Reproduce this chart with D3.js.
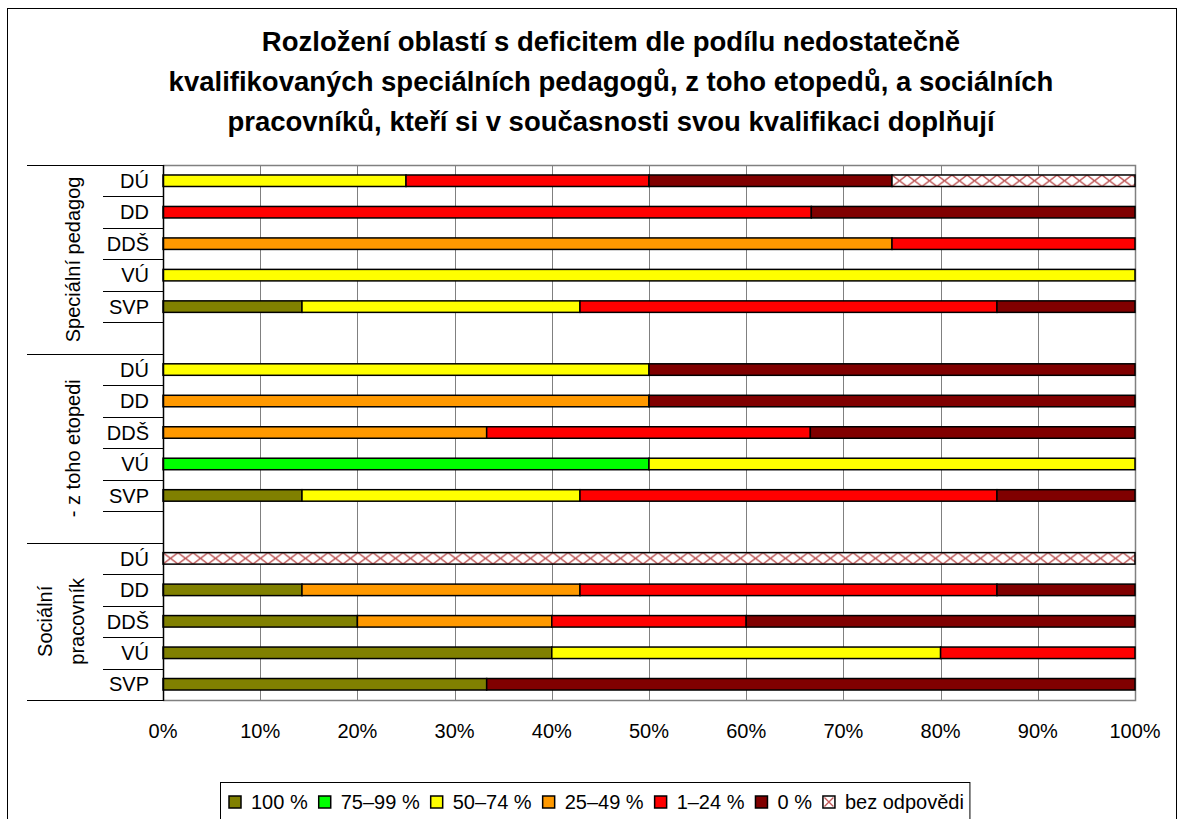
<!DOCTYPE html>
<html>
<head>
<meta charset="utf-8">
<script src="https://cdn.jsdelivr.net/npm/d3@7"></script>
<style>
  body { margin: 0; background: #fff; }
  svg { font-family: "Liberation Sans", Arial, sans-serif; }
</style>
</head>
<body>
<svg id="chart"></svg>
<script>
const width = 1182;
const height = 819;

const titleLines = [
  "Rozložení oblastí s deficitem dle podílu nedostatečně",
  "kvalifikovaných speciálních pedagogů, z toho etopedů, a sociálních",
  "pracovníků, kteří si v současnosti svou kvalifikaci doplňují"
];
const groups = [["Speciální pedagog"], ["- z toho etopedi"], ["Sociální", "pracovník"]];
const types = ["DÚ", "DD", "DDŠ", "VÚ", "SVP"];
const seriesNames = ["100 %", "75–99 %", "50–74 %", "25–49 %", "1–24 %", "0 %", "bez odpovědi"];
const colors = ["#808000", "#00ff00", "#ffff00", "#ff9900", "#ff0000", "#800000", "hatch"];

// share in %, order: group 1 (DÚ..SVP), group 2, group 3
const s100  = [0, 0, 0, 0, 14.3,    0, 0, 0, 0, 14.3,      0, 14.3, 20, 40, 33.3];
const s75   = [0, 0, 0, 0, 0,       0, 0, 0, 50, 0,        0, 0, 0, 0, 0];
const s50   = [25, 0, 0, 100, 28.6, 50, 0, 0, 50, 28.6,    0, 0, 0, 40, 0];
const s25   = [0, 0, 75, 0, 0,      0, 50, 33.3, 0, 0,     0, 28.6, 20, 0, 0];
const s1    = [25, 66.7, 25, 0, 42.9, 0, 0, 33.3, 0, 42.9, 0, 42.9, 20, 20, 0];
const s0    = [25, 33.3, 0, 0, 14.2, 50, 50, 33.4, 0, 14.2, 0, 14.2, 40, 0, 66.7];
const sNone = [25, 0, 0, 0, 0,      0, 0, 0, 0, 0,         100, 0, 0, 0, 0];
const seriesValues = [s100, s75, s50, s25, s1, s0, sNone];

const xTicks = [0, 10, 20, 30, 40, 50, 60, 70, 80, 90, 100];

const svg = d3.select("#chart").attr("width", width).attr("height", height);
const defs = svg.append("defs");

// chart frame
svg.append("rect")
  .attr("x", 7.5).attr("y", 8.5)
  .attr("width", 1169).attr("height", 840)
  .attr("fill", "#fff").attr("stroke", "#000");

// title
svg.append("g").selectAll("text")
  .data(titleLines)
  .enter().append("text")
  .attr("x", 611)
  .attr("y", (d, i) => 51 + i * 40)
  .attr("text-anchor", "middle")
  .attr("font-size", 27.5)
  .attr("font-weight", "bold")
  .text(d => d);

// rows: 5 types per group plus a blank row between groups
const rows = [];
groups.forEach((g, gi) => {
  types.forEach((t, ti) => {
    const row = { key: gi + "|" + t, group: gi, type: t, first: ti === 0 };
    seriesNames.forEach((s, si) => { row[s] = seriesValues[si][gi * 5 + ti]; });
    rows.push(row);
  });
  if (gi < groups.length - 1) {
    const blank = { key: gi + "|blank", group: gi, type: "", first: false };
    seriesNames.forEach(s => { blank[s] = 0; });
    rows.push(blank);
  }
});

const plot = { left: 163, right: 1135, top: 165, bottom: 700 };

const x = d3.scaleLinear().domain([0, 100]).range([plot.left, plot.right]);
const y = d3.scaleBand().domain(rows.map(d => d.key)).range([plot.top, plot.bottom]);
const barH = 11.5;

// gridlines
svg.append("g").selectAll("line")
  .data(xTicks.slice(1, -1))
  .enter().append("line")
  .attr("x1", d => Math.round(x(d)) + 0.5).attr("x2", d => Math.round(x(d)) + 0.5)
  .attr("y1", plot.top).attr("y2", plot.bottom)
  .attr("stroke", "#808080");

// plot area border (top, right, bottom)
svg.append("path")
  .attr("d", `M${plot.left},${plot.top + 0.5}H${plot.right + 0.5}V${plot.bottom + 0.5}H${plot.left}`)
  .attr("fill", "none").attr("stroke", "#808080").attr("stroke-width", 1.5);

// stacked bars
const stack = d3.stack().keys(seriesNames).value((d, k) => d[k]);
const stacked = stack(rows.filter(d => d.type !== ""));

const layer = svg.append("g").selectAll("g")
  .data(stacked)
  .enter().append("g");

layer.selectAll("rect")
  .data(d => d.filter(p => p[1] - p[0] > 0).map(p => ({ p, key: d.key, idx: d.index })))
  .enter().append("rect")
  .attr("x", d => x(d.p[0]))
  .attr("y", d => y(d.p.data.key) + (y.bandwidth() - barH) / 2)
  .attr("width", d => x(d.p[1]) - x(d.p[0]))
  .attr("height", barH)
  .attr("stroke", "#000")
  .attr("stroke-width", 1.5)
  .attr("fill", d => {
    if (colors[d.idx] !== "hatch") return colors[d.idx];
    const id = "hatch-" + d.p.data.group;
    const by = y(d.p.data.key) + (y.bandwidth() - barH) / 2;
    const pat = defs.append("pattern")
      .attr("id", id)
      .attr("patternUnits", "userSpaceOnUse")
      .attr("x", x(d.p[0])).attr("y", by)
      .attr("width", 15).attr("height", barH);
    pat.append("rect").attr("width", 15).attr("height", barH).attr("fill", "#fff");
    pat.append("path")
      .attr("d", `M0,0L15,${barH}M15,0L0,${barH}`)
      .attr("stroke", "#c05858").attr("stroke-width", 1.4).attr("fill", "none");
    return `url(#${id})`;
  });

// left axis line
svg.append("line")
  .attr("x1", plot.left + 0.5).attr("x2", plot.left + 0.5)
  .attr("y1", plot.top).attr("y2", plot.bottom + 1)
  .attr("stroke", "#000").attr("stroke-width", 1.5);

// category separators
svg.append("g").selectAll("line")
  .data(rows)
  .enter().append("line")
  .attr("x1", d => d.first ? 27 : 103).attr("x2", plot.left)
  .attr("y1", d => Math.round(y(d.key)) + 0.5).attr("y2", d => Math.round(y(d.key)) + 0.5)
  .attr("stroke", "#000");
svg.append("line")
  .attr("x1", 27).attr("x2", plot.left)
  .attr("y1", plot.bottom + 0.5).attr("y2", plot.bottom + 0.5)
  .attr("stroke", "#000");

// category labels
svg.append("g").selectAll("text")
  .data(rows.filter(d => d.type !== ""))
  .enter().append("text")
  .attr("x", 149)
  .attr("y", d => y(d.key) + y.bandwidth() / 2)
  .attr("dy", "0.36em")
  .attr("text-anchor", "end")
  .attr("font-size", 20)
  .text(d => d.type);

// group labels (rotated)
const groupCenter = gi => {
  const keys = rows.filter(d => d.group === gi).map(d => d.key);
  return (y(keys[0]) + y(keys[keys.length - 1]) + y.bandwidth()) / 2;
};
groups.forEach((lines, gi) => {
  const cy = groupCenter(gi);
  const cx = lines.length === 1 ? 73 : 61;
  const t = svg.append("text")
    .attr("transform", `translate(${cx},${cy}) rotate(-90)`)
    .attr("text-anchor", "middle")
    .attr("font-size", 20);
  lines.forEach((l, li) => {
    t.append("tspan")
      .attr("x", 0)
      .attr("y", (li - (lines.length - 1) / 2) * 32)
      .attr("dy", "0.36em")
      .text(l);
  });
});

// x tick labels
svg.append("g").selectAll("text")
  .data(xTicks)
  .enter().append("text")
  .attr("x", d => x(d))
  .attr("y", 738)
  .attr("text-anchor", "middle")
  .attr("font-size", 20)
  .text(d => d + "%");

// legend, items laid out one after another
const legendBox = svg.append("rect")
  .attr("x", 220.5).attr("y", 782.5)
  .attr("height", 60)
  .attr("fill", "#fff").attr("stroke", "#000");

const legend = svg.append("g").selectAll("g")
  .data(seriesNames)
  .enter().append("g");

legend.append("rect")
  .attr("width", 12).attr("height", 12)
  .attr("fill", (d, i) => colors[i] === "hatch" ? "#fff" : colors[i])
  .attr("stroke", "#000").attr("stroke-width", 1.5);
legend.filter((d, i) => colors[i] === "hatch").append("path")
  .attr("d", "M1.5,1.5L10.5,10.5M10.5,1.5L1.5,10.5")
  .attr("stroke", "#c05858").attr("stroke-width", 1.3);
legend.append("text")
  .attr("x", 22).attr("y", 6)
  .attr("dy", "0.36em")
  .attr("font-size", 20)
  .text(d => d);

let lx = 229;
legend.each(function () {
  const g = d3.select(this);
  g.attr("transform", `translate(${lx},796)`);
  lx += 22 + g.select("text").node().getComputedTextLength() + 11;
});
legendBox.attr("width", lx - 11 + 6 - 220.5);
</script>
</body>
</html>
